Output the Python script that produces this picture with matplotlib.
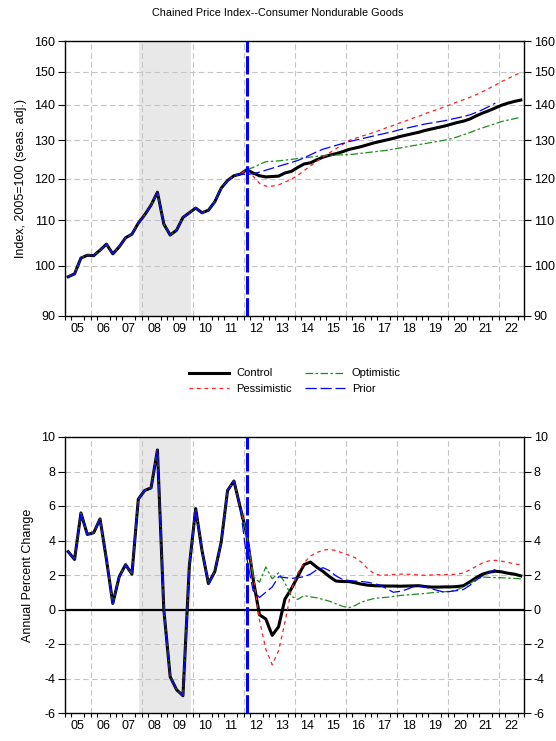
import matplotlib
matplotlib.use("Agg")
import matplotlib.pyplot as plt
import numpy as np

plt.rcParams['font.family'] = ['Liberation Sans', 'DejaVu Sans']

# ---- data (quarterly, 2005Q1 .. 2022Q4) ----
years = list(range(2005, 2023))
year_labels = [f"{y % 100:02d}" for y in years]

# history 2005Q1 - 2012Q1, index level
hist_idx = [97.7, 98.3, 101.6, 102.2, 102.1, 103.3, 104.6, 102.5, 104.0, 106.0,
            106.8, 109.3, 111.2, 113.5, 116.6, 109.1, 106.6, 107.7, 110.6, 111.7,
            112.8, 111.7, 112.3, 114.3, 117.6, 119.5, 120.7, 121.1, 122.2]
# history annual percent change
hist_pct = [3.35, 2.9, 5.6, 4.35, 4.45, 5.25, 2.9, 0.35, 1.9, 2.6,
            2.05, 6.4, 6.9, 7.05, 9.25, 0.0, -3.9, -4.65, -5.0, 2.5,
            5.85, 3.4, 1.5, 2.2, 3.9, 6.9, 7.45, 5.9, 4.4]

# forecasts 2012Q2 - 2022Q4
control_idx = [121.4, 120.7, 120.4, 120.5, 120.6, 121.4, 121.8, 122.8, 123.7, 124.0,
               124.8, 125.5, 126.0, 126.4, 126.9, 127.5, 127.9, 128.3, 128.8, 129.3,
               129.7, 130.1, 130.5, 131.0, 131.4, 131.8, 132.2, 132.7, 133.1, 133.5,
               133.9, 134.4, 134.9, 135.3, 135.9, 136.8, 137.6, 138.3, 139.1, 139.9,
               140.5, 141.0, 141.4]
pessim_idx = [120.6, 118.8, 118.1, 118.1, 118.4, 119.1, 119.8, 120.8, 122.0, 123.2,
              124.4, 125.6, 126.6, 127.7, 128.8, 129.9, 130.5, 131.1, 131.6, 132.2,
              132.8, 133.5, 134.1, 134.8, 135.4, 136.1, 136.7, 137.4, 138.1, 138.7,
              139.4, 140.1, 140.8, 141.5, 142.2, 143.0, 143.9, 144.9, 145.9, 147.0,
              147.9, 148.9, 149.8]
optim_idx = [122.8, 123.6, 124.3, 124.4, 124.5, 124.7, 124.9, 125.1, 125.3, 125.5,
             125.7, 125.9, 126.0, 126.05, 126.1, 126.15, 126.3, 126.5, 126.7, 126.9,
             127.1, 127.3, 127.6, 127.9, 128.2, 128.5, 128.8, 129.1, 129.4, 129.7,
             130.0, 130.4, 130.9, 131.5, 132.1, 132.8, 133.4, 134.0, 134.6, 135.2,
             135.6, 136.0, 136.4]
# prior forecast 2012Q1 - 2021Q4
prior_idx = [121.0, 121.2, 121.6, 122.1, 122.6, 123.1, 123.6, 124.1, 124.6, 125.3,
             126.1, 126.9, 127.6, 128.1, 128.6, 129.1, 129.6, 130.0, 130.4, 130.8,
             131.2, 131.6, 132.0, 132.4, 132.9, 133.3, 133.7, 134.1, 134.5, 134.8,
             135.1, 135.4, 135.8, 136.2, 136.6, 137.1, 137.8, 138.6, 139.5, 140.5]

control_pct = [1.8, -0.3, -0.55, -1.5, -1.0, 0.6, 1.2, 1.9, 2.6, 2.75,
               2.45, 2.2, 1.9, 1.65, 1.62, 1.62, 1.55, 1.47, 1.41, 1.38,
               1.37, 1.36, 1.36, 1.35, 1.36, 1.37, 1.38, 1.33, 1.30, 1.30,
               1.31, 1.31, 1.33, 1.38, 1.60, 1.85, 2.05, 2.16, 2.22, 2.18,
               2.1, 2.05, 1.95]
pessim_pct = [2.0, -0.6, -2.3, -3.2, -2.4, -0.75, 1.15, 2.1, 2.7, 3.1,
              3.3, 3.45, 3.48, 3.42, 3.28, 3.15, 3.0, 2.74, 2.36, 2.07,
              1.98, 2.0, 2.03, 2.05, 2.05, 2.03, 2.0, 1.98, 2.0, 2.02,
              2.02, 2.03, 2.05, 2.12, 2.3, 2.5, 2.7, 2.82, 2.85, 2.8,
              2.72, 2.65, 2.58]
optim_pct = [1.93, 1.58, 2.47, 1.78, 2.13, 1.55, 0.77, 0.58, 0.81, 0.73,
             0.68, 0.58, 0.48, 0.33, 0.19, 0.1, 0.23, 0.43, 0.54, 0.64,
             0.68, 0.71, 0.76, 0.81, 0.84, 0.87, 0.9, 0.93, 0.97, 1.0,
             1.03, 1.06, 1.15, 1.3, 1.5, 1.75, 1.88, 1.86, 1.85, 1.84,
             1.82, 1.8, 1.78]
prior_pct = [3.0, 1.1, 0.7, 1.0, 1.3, 1.9, 1.85, 1.8, 1.85, 1.9,
             2.05, 2.3, 2.42, 2.25, 1.95, 1.75, 1.68, 1.65, 1.62, 1.58,
             1.5, 1.4, 1.2, 1.0, 1.05, 1.15, 1.3, 1.39, 1.3, 1.2,
             1.1, 1.0, 1.05, 1.1, 1.16, 1.4, 1.7, 1.95, 2.15, 2.32]

recession = (2007.92, 2009.93)
forecast_start = 2012.125

# ---- helpers ----
def qx(n):
    return 2005 + (np.arange(n) + 0.5) / 4

series = [
    ("Control", dict(color="black", lw=2.2, ls="-")),
    ("Pessimistic", dict(color="#ff2020", lw=0.9, dashes=(3, 3))),
    ("Optimistic", dict(color="#1e8c1e", lw=0.9, dashes=(6, 2, 2, 2))),
    ("Prior", dict(color="#0000ff", lw=0.9, dashes=(9, 3))),
]

top = {
    "Control": hist_idx + control_idx,
    "Pessimistic": hist_idx + pessim_idx,
    "Optimistic": hist_idx + optim_idx,
    "Prior": hist_idx[:-1] + prior_idx,
}
bot = {
    "Control": hist_pct + control_pct,
    "Pessimistic": hist_pct + pessim_pct,
    "Optimistic": hist_pct + optim_pct,
    "Prior": hist_pct[:-1] + prior_pct,
}

fig = plt.figure(figsize=(5.56, 7.41), dpi=100)
W, H = 556, 741
ax1 = fig.add_axes([65 / W, 1 - 316 / H, 459 / W, 275 / H])
ax2 = fig.add_axes([65 / W, 1 - 713 / H, 459 / W, 276 / H])

grid_kw = dict(color="#c4c4c4", lw=0.8, dashes=(5, 3), zorder=0)

def style_axes(ax, yticks, ylabels):
    ax.set_xlim(2005, 2023)
    ax.axvspan(*recession, color="#e8e8e8", lw=0, zorder=0)
    for y in yticks[1:-1]:
        ax.axhline(y, **grid_kw)
    for yr in range(2006, 2023, 2):
        ax.axvline(yr, **grid_kw)
    ax.set_yticks(yticks)
    ax.set_yticklabels(ylabels)
    ax.yaxis.set_minor_locator(matplotlib.ticker.NullLocator())
    ax.set_xticks([y + 0.5 for y in years])
    ax.set_xticklabels(year_labels)
    ax.set_xticks(np.arange(2005, 2023.01, 0.25), minor=True)
    ax.tick_params(axis="x", which="major", length=0, labelsize=9, pad=5)
    ax.tick_params(axis="x", which="minor", length=3, direction="out", width=0.8)
    ax.tick_params(axis="y", which="major", length=5, direction="out", width=0.8,
                   labelsize=9, pad=2, left=True, right=True,
                   labelleft=True, labelright=True)
    for s in ax.spines.values():
        s.set_linewidth(1.0)

# top panel
ax1.set_yscale("log")
ax1.set_ylim(90, 160)
tt = [90, 100, 110, 120, 130, 140, 150, 160]
style_axes(ax1, tt, [str(t) for t in tt])
handles = []
for name, kw in series:
    vals = top[name]
    h, = ax1.plot(qx(len(vals)), vals, label=name, zorder=3, **kw)
    handles.append(h)
ax1.axvline(forecast_start, color="#0000ff", lw=2.2, dashes=(6, 1.2), zorder=4)
ax1.set_ylabel("Index, 2005=100 (seas. adj.)", fontsize=9, labelpad=5)

# bottom panel
ax2.set_ylim(-6, 10)
bt = list(range(-6, 11, 2))
style_axes(ax2, bt, [str(t) for t in bt])
ax2.axhline(0, color="black", lw=1.6, zorder=2)
for name, kw in series:
    vals = bot[name]
    ax2.plot(qx(len(vals)), vals, zorder=3, **kw)
ax2.axvline(forecast_start, color="#0000ff", lw=2.2, dashes=(6, 1.2), zorder=4)
ax2.set_ylabel("Annual Percent Change", fontsize=9, labelpad=5)

fig.text(0.5, 1 - 13 / H, "Chained Price Index--Consumer Nondurable Goods",
         ha="center", va="center", fontsize=7.8)

fig.legend(handles=handles, loc="center", bbox_to_anchor=(295 / W, 1 - 381 / H),
           ncol=2, frameon=False, fontsize=8, handlelength=3.6,
           handletextpad=0.6, columnspacing=1.2, labelspacing=0.45)

fig.savefig("out.png", dpi=100)
